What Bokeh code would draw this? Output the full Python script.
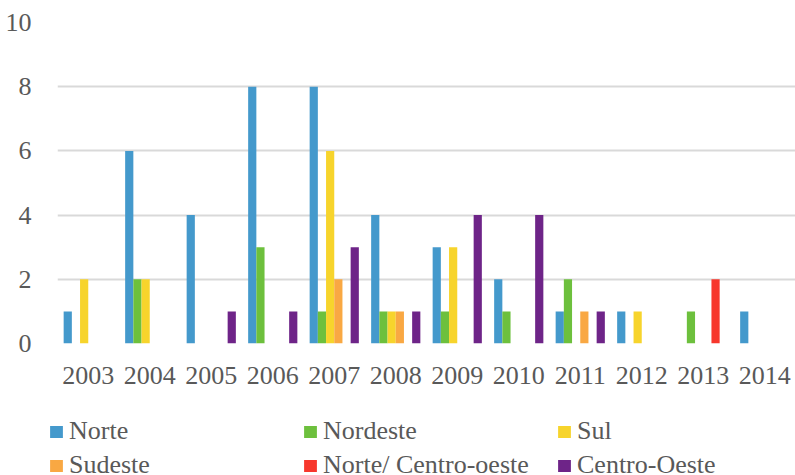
from bokeh.plotting import figure
from bokeh.layouts import column
from bokeh.models import ColumnDataSource, FactorRange, Range1d, Legend, LegendItem, FixedTicker
from bokeh.transform import dodge
from bokeh.embed import file_html
from bokeh.resources import INLINE

years = ["2003", "2004", "2005", "2006", "2007", "2008", "2009", "2010", "2011", "2012", "2013", "2014"]
norte = [1, 6, 4, 8, 8, 4, 3, 2, 1, 1, 0, 1]
nordeste = [0, 2, 0, 3, 1, 1, 1, 1, 2, 0, 1, 0]
sul = [2, 2, 0, 0, 6, 1, 3, 0, 0, 1, 0, 0]
sudeste = [0, 0, 0, 0, 2, 1, 0, 0, 1, 0, 0, 0]
norte_centro_oeste = [0, 0, 0, 0, 0, 0, 0, 0, 0, 0, 2, 0]
centro_oeste = [0, 0, 1, 1, 3, 1, 4, 4, 1, 0, 0, 0]

series_names = ["Norte", "Nordeste", "Sul", "Sudeste", "Norte/ Centro-oeste", "Centro-Oeste"]
series_keys = ["norte", "nordeste", "sul", "sudeste", "nco", "co"]
series_colors = ["#4499CC", "#6DC03D", "#F7D42C", "#F9A843", "#F7372C", "#6E2488"]
y_ticks = [0, 2, 4, 6, 8, 10]

source = ColumnDataSource(dict(
    years=years, norte=norte, nordeste=nordeste, sul=sul, sudeste=sudeste,
    nco=norte_centro_oeste, co=centro_oeste,
))

FONT = "Liberation Serif"
TXT = "#595959"

p = figure(
    width=795, height=400,
    x_range=FactorRange(factors=years, range_padding=0),
    y_range=Range1d(0, 10),
    output_backend="svg", toolbar_location=None,
    min_border_left=57, min_border_right=0, min_border_top=22, min_border_bottom=57,
)
p.frame_align = False
p.outline_line_color = None
p.background_fill_color = "white"
p.border_fill_color = "white"

bw = 1.0 / 7.5
for i, (key, col) in enumerate(zip(series_keys, series_colors)):
    off = (i - 2.5) * bw
    p.vbar(x=dodge("years", off, range=p.x_range), top=key, width=bw,
           source=source, fill_color=col, line_color=None)

p.xgrid.grid_line_color = None
p.ygrid.ticker = FixedTicker(ticks=y_ticks)
p.ygrid.grid_line_color = "#D9D9D9"
p.ygrid.grid_line_width = 2
p.yaxis.ticker = FixedTicker(ticks=y_ticks)

for ax in (p.xaxis[0], p.yaxis[0]):
    ax.axis_line_color = None
    ax.major_tick_line_color = None
    ax.minor_tick_line_color = None
    ax.major_tick_out = 0
    ax.major_tick_in = 0
    ax.major_label_text_font = FONT
    ax.major_label_text_font_size = "26px"
    ax.major_label_text_color = TXT
p.yaxis.major_label_standoff = 26
p.xaxis.major_label_standoff = 23

# legend strip below the chart
lf = figure(
    width=795, height=75, x_range=Range1d(0, 1), y_range=Range1d(0, 1),
    output_backend="svg", toolbar_location=None,
    x_axis_type=None, y_axis_type=None,
    min_border_left=0, min_border_right=0, min_border_top=0, min_border_bottom=0,
)
lf.frame_align = False
lf.outline_line_color = None
lf.xgrid.grid_line_color = None
lf.ygrid.grid_line_color = None
items = []
for name, col in zip(series_names, series_colors):
    r = lf.quad(left=[float("nan")], right=[float("nan")], bottom=[float("nan")], top=[float("nan")],
                fill_color=col, line_color=None)
    items.append(LegendItem(label=name, renderers=[r]))

legend = Legend(
    items=items, location=(48, -5), orientation="horizontal", ncols=3,
    glyph_width=16, glyph_height=15, label_standoff=5, label_width=229,
    label_height=30, spacing=4, padding=0, margin=0,
    border_line_color=None, background_fill_alpha=0,
    label_text_font=FONT, label_text_font_size="26px", label_text_color=TXT,
)
lf.add_layout(legend, "center")

layout = column(p, lf, spacing=0)
open("out.html", "w").write(file_html(layout, INLINE))
